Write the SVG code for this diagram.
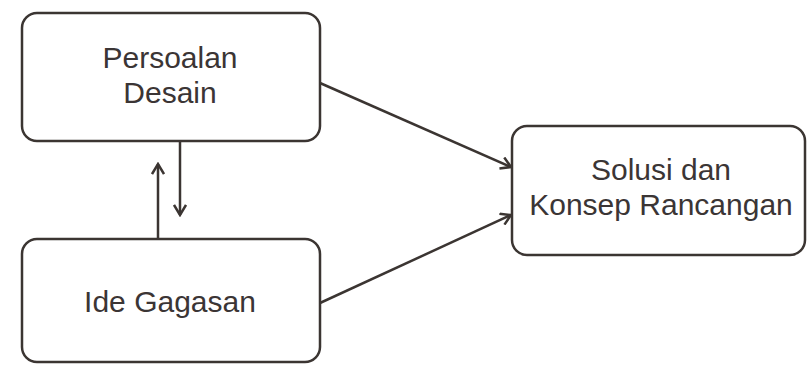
<svg xmlns="http://www.w3.org/2000/svg" width="807" height="365" viewBox="0 0 807 365">
<style>
.box{fill:#fff;stroke:#3b3532;stroke-width:2.5}
.t{font-family:"Liberation Sans",Arial,sans-serif;font-size:30px;fill:#3b3535;text-anchor:middle}
.c{fill:none;stroke:#3b3532;stroke-width:2.5}
</style>
<defs>
<marker id="ah" viewBox="0 0 14 14" refX="12" refY="7" markerWidth="14" markerHeight="14" markerUnits="userSpaceOnUse" orient="auto">
<path d="M2,1 L12,7 L2,13" fill="none" stroke="#3b3532" stroke-width="2.5"/>
</marker>
</defs>
<rect width="807" height="365" fill="#fff"/>
<g id="connectors">
<line class="c" x1="180" y1="141" x2="180" y2="215" marker-end="url(#ah)"/>
<line class="c" x1="158" y1="239" x2="158" y2="164" marker-end="url(#ah)"/>
<line class="c" x1="320" y1="83" x2="511" y2="167" marker-end="url(#ah)"/>
<line class="c" x1="320" y1="303" x2="511" y2="215" marker-end="url(#ah)"/>
</g>
<g id="persoalan">
<rect class="box" x="22" y="13" width="298" height="128" rx="15"/>
<text class="t" x="170" y="68">Persoalan</text>
<text class="t" x="170" y="103">Desain</text>
</g>
<g id="ide">
<rect class="box" x="22" y="239" width="298" height="123" rx="15"/>
<text class="t" x="170" y="312">Ide Gagasan</text>
</g>
<g id="solusi">
<rect class="box" x="512" y="126" width="293" height="129" rx="15"/>
<text class="t" x="661" y="180">Solusi dan</text>
<text class="t" x="661" y="215">Konsep Rancangan</text>
</g>
</svg>
